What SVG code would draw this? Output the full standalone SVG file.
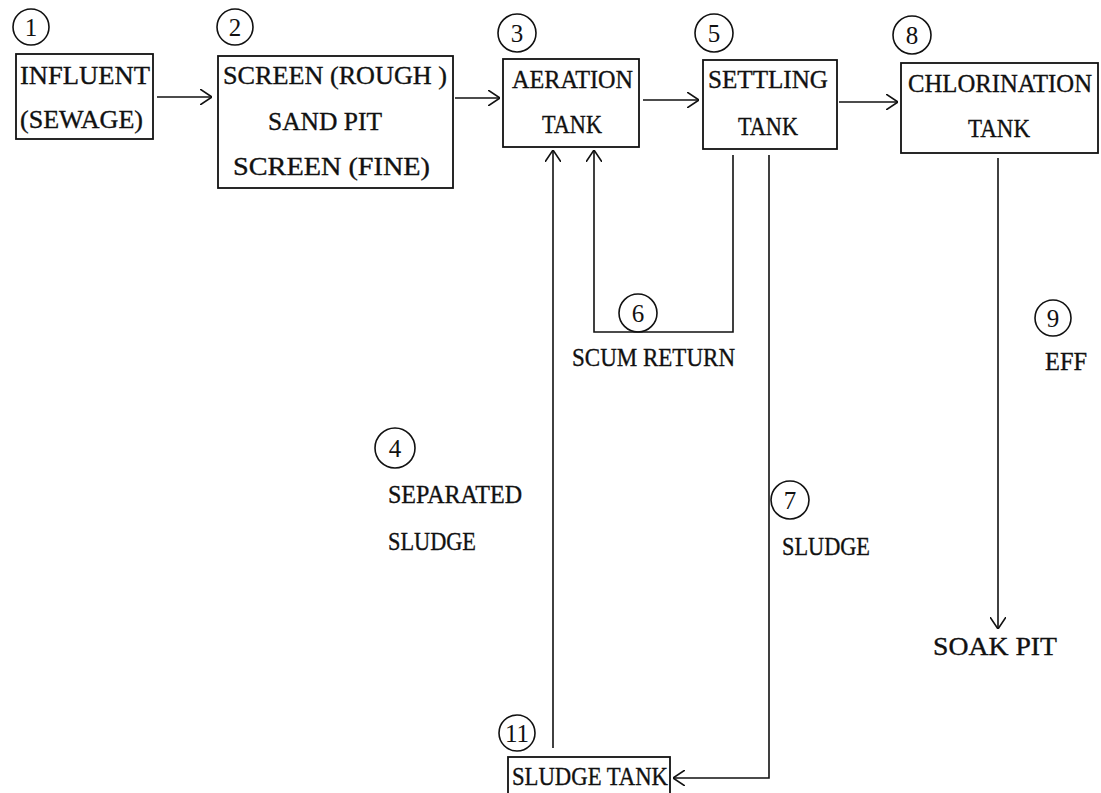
<svg xmlns="http://www.w3.org/2000/svg" width="1101" height="793" viewBox="0 0 1101 793">
<style>
.box{fill:none;stroke:#111;stroke-width:1.8}
.t{font-family:"Liberation Serif","Times New Roman",serif;font-size:26px;fill:#111;stroke:#111;stroke-width:0.35}
.n{font-family:"Liberation Serif","Times New Roman",serif;font-size:25px;fill:#111;text-anchor:middle}
.c{fill:none;stroke:#111;stroke-width:1.6}
.ln{fill:none;stroke:#111;stroke-width:1.6}
</style>
<defs>
<marker id="ah" viewBox="0 0 12 16" refX="12" refY="8" markerWidth="12" markerHeight="16" markerUnits="userSpaceOnUse" orient="auto">
<path d="M0,0 L12,8 L0,16" fill="none" stroke="#111" stroke-width="1.6"/>
</marker>
</defs>
<rect width="1101" height="793" fill="#fff"/>
<g id="connectors">
<line class="ln" x1="157" y1="97" x2="212" y2="97" marker-end="url(#ah)"/>
<line class="ln" x1="455" y1="98" x2="500" y2="98" marker-end="url(#ah)"/>
<line class="ln" x1="643" y1="100" x2="699" y2="100" marker-end="url(#ah)"/>
<line class="ln" x1="839" y1="102" x2="898" y2="102" marker-end="url(#ah)"/>
<polyline class="ln" points="553,748 553,150" marker-end="url(#ah)"/>
<polyline class="ln" points="733,155 733,332 594,332 594,150" marker-end="url(#ah)"/>
<polyline class="ln" points="769,155 769,778 673,778" marker-end="url(#ah)"/>
<line class="ln" x1="998" y1="158" x2="998" y2="629" marker-end="url(#ah)"/>
</g>
<g id="n1">
<circle class="c" cx="31" cy="27" r="18"/><text class="n" x="31" y="36">1</text>
<rect class="box" x="16" y="54" width="137" height="85"/>
<text class="t" x="20" y="84" textLength="130" lengthAdjust="spacingAndGlyphs">INFLUENT</text>
<text class="t" x="20" y="128" textLength="123" lengthAdjust="spacingAndGlyphs">(SEWAGE)</text>
</g>
<g id="n2">
<circle class="c" cx="235" cy="27" r="18"/><text class="n" x="235" y="36">2</text>
<rect class="box" x="218" y="56" width="235" height="132"/>
<text class="t" x="223" y="84" textLength="224" lengthAdjust="spacingAndGlyphs">SCREEN (ROUGH )</text>
<text class="t" x="268" y="130" textLength="114" lengthAdjust="spacingAndGlyphs">SAND PIT</text>
<text class="t" x="233" y="175" textLength="197" lengthAdjust="spacingAndGlyphs">SCREEN (FINE)</text>
</g>
<g id="n3">
<circle class="c" cx="517" cy="33" r="19"/><text class="n" x="517" y="42">3</text>
<rect class="box" x="503" y="59" width="136" height="88"/>
<text class="t" x="512" y="88" textLength="121" lengthAdjust="spacingAndGlyphs">AERATION</text>
<text class="t" x="542" y="133" textLength="60" lengthAdjust="spacingAndGlyphs">TANK</text>
</g>
<g id="n5">
<circle class="c" cx="714" cy="33" r="19"/><text class="n" x="714" y="42">5</text>
<rect class="box" x="703" y="60" width="134" height="89"/>
<text class="t" x="708" y="88" textLength="120" lengthAdjust="spacingAndGlyphs">SETTLING</text>
<text class="t" x="738" y="135" textLength="60" lengthAdjust="spacingAndGlyphs">TANK</text>
</g>
<g id="n8">
<circle class="c" cx="912" cy="35" r="19"/><text class="n" x="912" y="44">8</text>
<rect class="box" x="901" y="63" width="197" height="90"/>
<text class="t" x="908" y="92" textLength="184" lengthAdjust="spacingAndGlyphs">CHLORINATION</text>
<text class="t" x="968" y="137" textLength="62" lengthAdjust="spacingAndGlyphs">TANK</text>
</g>
<g id="n6">
<circle class="c" cx="638" cy="313" r="19"/><text class="n" x="638" y="322">6</text>
<text class="t" x="572" y="366" textLength="163" lengthAdjust="spacingAndGlyphs">SCUM RETURN</text>
</g>
<g id="n4">
<circle class="c" cx="395" cy="448" r="20"/><text class="n" x="395" y="457">4</text>
<text class="t" x="388" y="503" textLength="134" lengthAdjust="spacingAndGlyphs">SEPARATED</text>
<text class="t" x="388" y="550" textLength="88" lengthAdjust="spacingAndGlyphs">SLUDGE</text>
</g>
<g id="n7">
<circle class="c" cx="790" cy="500" r="19"/><text class="n" x="790" y="509">7</text>
<text class="t" x="782" y="555" textLength="88" lengthAdjust="spacingAndGlyphs">SLUDGE</text>
</g>
<g id="n9">
<circle class="c" cx="1053" cy="318" r="18"/><text class="n" x="1053" y="327">9</text>
<text class="t" x="1045" y="370" textLength="42" lengthAdjust="spacingAndGlyphs">EFF</text>
</g>
<g id="soak">
<text class="t" x="933" y="655" textLength="124" lengthAdjust="spacingAndGlyphs">SOAK PIT</text>
</g>
<g id="n11">
<circle class="c" cx="517" cy="733" r="18"/><text class="n" x="517" y="742">11</text>
<rect class="box" x="508" y="757" width="162" height="45"/>
<text class="t" x="512" y="785" textLength="156" lengthAdjust="spacingAndGlyphs">SLUDGE TANK</text>
</g>
</svg>
